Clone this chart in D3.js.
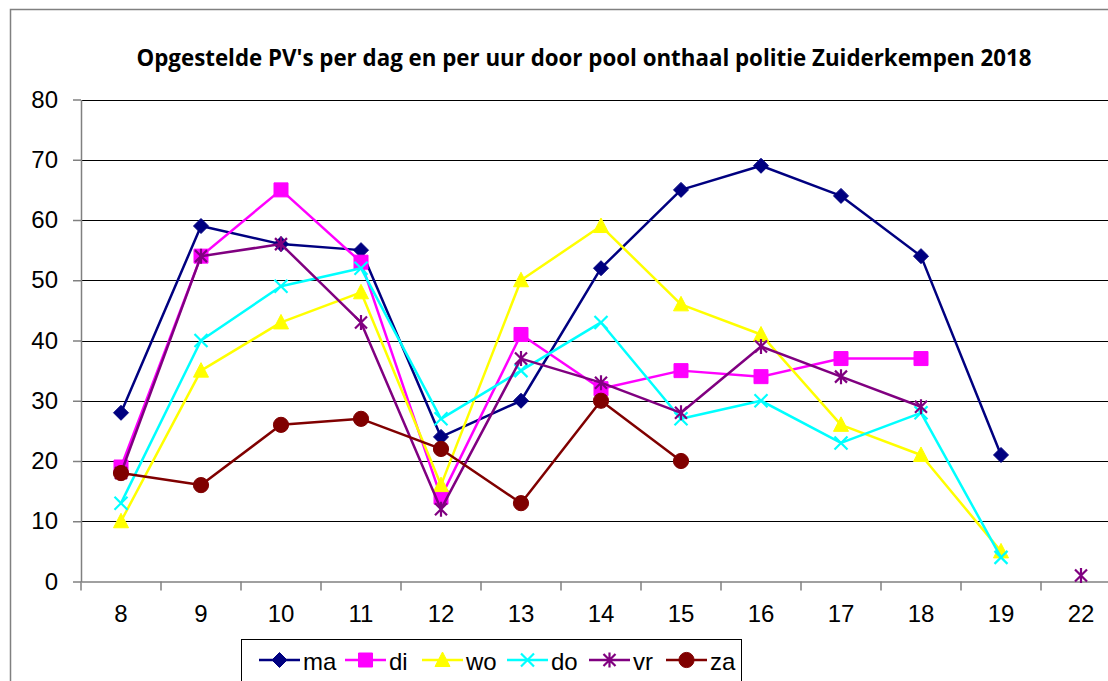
<!DOCTYPE html>
<html>
<head>
<meta charset="utf-8">
<script src="https://cdn.jsdelivr.net/npm/d3@7"></script>
<style>
  html, body { margin: 0; padding: 0; background: #fff; }
  svg { display: block; }
</style>
</head>
<body>
<svg id="chart" width="1108" height="681"></svg>
<script>
// ---- data ----
const categories = ["8", "9", "10", "11", "12", "13", "14", "15", "16", "17", "18", "19", "22"];
const maValues = [28, 59, 56, 55, 24, 30, 52, 65, 69, 64, 54, 21, null];
const diValues = [19, 54, 65, 53, 14, 41, 32, 35, 34, 37, 37, null, null];
const woValues = [10, 35, 43, 48, 16, 50, 59, 46, 41, 26, 21, 5, null];
const doValues = [13, 40, 49, 52, 27, 35, 43, 27, 30, 23, 28, 4, null];
const vrValues = [18, 54, 56, 43, 12, 37, 33, 28, 39, 34, 29, null, 1];
const zaValues = [18, 16, 26, 27, 22, 13, 30, 20, null, null, null, null, null];
const seriesNames = ["ma", "di", "wo", "do", "vr", "za"];
const yTicks = [0, 10, 20, 30, 40, 50, 60, 70, 80];
const titleText = "Opgestelde PV's per dag en per uur door pool onthaal politie Zuiderkempen 2018";

const series = [
  { name: seriesNames[0], values: maValues, color: "#000080", marker: "diamond" },
  { name: seriesNames[1], values: diValues, color: "#FF00FF", marker: "square" },
  { name: seriesNames[2], values: woValues, color: "#FFFF00", marker: "triangle" },
  { name: seriesNames[3], values: doValues, color: "#00FFFF", marker: "x" },
  { name: seriesNames[4], values: vrValues, color: "#800080", marker: "star" },
  { name: seriesNames[5], values: zaValues, color: "#800000", marker: "circle" }
];

// ---- layout ----
const svg = d3.select("#chart");
const plot = { left: 81, right: 1121, top: 99.5, bottom: 581.5 };
const labelFont = "'Liberation Sans', Arial, sans-serif";
const labelSize = 24;

const x = d3.scaleBand().domain(categories).range([plot.left, plot.right]);
const y = d3.scaleLinear().domain([0, 80]).range([plot.bottom, plot.top]);

// outer chart border (extends past the picture on right/bottom)
svg.append("rect")
  .attr("x", 10.5).attr("y", 9.5)
  .attr("width", 1200).attr("height", 800)
  .attr("fill", "#fff").attr("stroke", "#808080").attr("stroke-width", 1.5);

// title
svg.append("text")
  .attr("x", 584).attr("y", 66)
  .attr("text-anchor", "middle")
  .attr("font-family", "'Open Sans', 'DejaVu Sans', sans-serif")
  .attr("font-weight", "bold")
  .attr("font-size", 22.5)
  .attr("textLength", 895)
  .attr("lengthAdjust", "spacingAndGlyphs")
  .attr("fill", "#000")
  .text(titleText);

// gridlines
svg.append("g")
  .selectAll("line")
  .data(yTicks.filter(d => d > 0))
  .join("line")
  .attr("x1", plot.left).attr("x2", plot.right)
  .attr("y1", d => Math.round(y(d)) + 0.5).attr("y2", d => Math.round(y(d)) + 0.5)
  .attr("stroke", "#000").attr("stroke-width", 1);

// y axis
const yAxis = svg.append("g")
  .attr("transform", `translate(${plot.left},0)`)
  .call(d3.axisLeft(y).tickValues(yTicks).tickSize(8).tickPadding(15).tickSizeOuter(0));
yAxis.select(".domain").attr("stroke", "#808080").attr("stroke-width", 1.5);
yAxis.selectAll(".tick line").attr("stroke", "#808080").attr("stroke-width", 1.5);
yAxis.selectAll(".tick text")
  .attr("font-family", labelFont)
  .attr("font-size", labelSize).attr("fill", "#000");

// x axis
const xAxis = svg.append("g")
  .attr("transform", `translate(0,${plot.bottom})`)
  .call(d3.axisBottom(x).tickSize(0).tickPadding(23).tickSizeOuter(0));
xAxis.select(".domain").attr("stroke", "#808080").attr("stroke-width", 1.5);
xAxis.selectAll(".tick text")
  .attr("font-family", labelFont)
  .attr("font-size", labelSize).attr("fill", "#000");
// category boundary ticks
xAxis.append("g").selectAll("line")
  .data(categories)
  .join("line")
  .attr("x1", d => x(d)).attr("x2", d => x(d))
  .attr("y1", 0).attr("y2", 9)
  .attr("stroke", "#808080").attr("stroke-width", 1.5);

// marker shapes
function markerPath(type) {
  switch (type) {
    case "diamond": return "M0,-7.5L7.5,0L0,7.5L-7.5,0Z";
    case "square": return "M-7,-7H7V7H-7Z";
    case "triangle": return "M0,-8L7.5,6.5L-7.5,6.5Z";
    case "x": return "M-6.5,-6.5L6.5,6.5M-6.5,6.5L6.5,-6.5";
    case "star": return "M-6,-6L6,6M-6,6L6,-6M0,-7.5V7.5";
    case "circle": return d3.symbol(d3.symbolCircle, Math.PI * 7.6 * 7.6)();
  }
}
function styleMarker(sel, s) {
  const open = s.marker === "x" || s.marker === "star";
  sel.attr("d", markerPath(s.marker))
    .attr("fill", open ? "none" : s.color)
    .attr("stroke", s.color)
    .attr("stroke-width", open ? 2.2 : 1);
}

const line = d3.line()
  .defined(d => d.v != null)
  .x(d => x(d.c) + x.bandwidth() / 2)
  .y(d => y(d.v));

series.forEach(s => {
  const pts = categories.map((c, i) => ({ c, v: s.values[i] }));
  const g = svg.append("g");
  g.append("path")
    .datum(pts)
    .attr("d", line)
    .attr("fill", "none")
    .attr("stroke", s.color)
    .attr("stroke-width", 2.5)
    .attr("stroke-linejoin", "round");
  g.selectAll("path.m")
    .data(pts.filter(d => d.v != null))
    .join("path")
    .attr("class", "m")
    .attr("transform", d => `translate(${x(d.c) + x.bandwidth() / 2},${y(d.v)})`)
    .call(sel => styleMarker(sel, s));
});

// legend
const legend = svg.append("g");
legend.append("rect")
  .attr("x", 241.5).attr("y", 639.5)
  .attr("width", 500).attr("height", 60)
  .attr("fill", "#fff").attr("stroke", "#000").attr("stroke-width", 1);
const legendX = [259, 345, 422, 507, 589, 666];
const legendY = 660;
series.forEach((s, i) => {
  const lg = legend.append("g").attr("transform", `translate(${legendX[i]},${legendY})`);
  lg.append("line").attr("x1", 0).attr("x2", 41).attr("y1", 0).attr("y2", 0)
    .attr("stroke", s.color).attr("stroke-width", 2.5);
  lg.append("path").attr("transform", "translate(20.5,0)").call(sel => styleMarker(sel, s));
  lg.append("text")
    .attr("x", 44).attr("y", 9.5)
    .attr("font-family", labelFont)
    .attr("font-size", labelSize).attr("fill", "#000")
    .text(s.name);
});
</script>
</body>
</html>
